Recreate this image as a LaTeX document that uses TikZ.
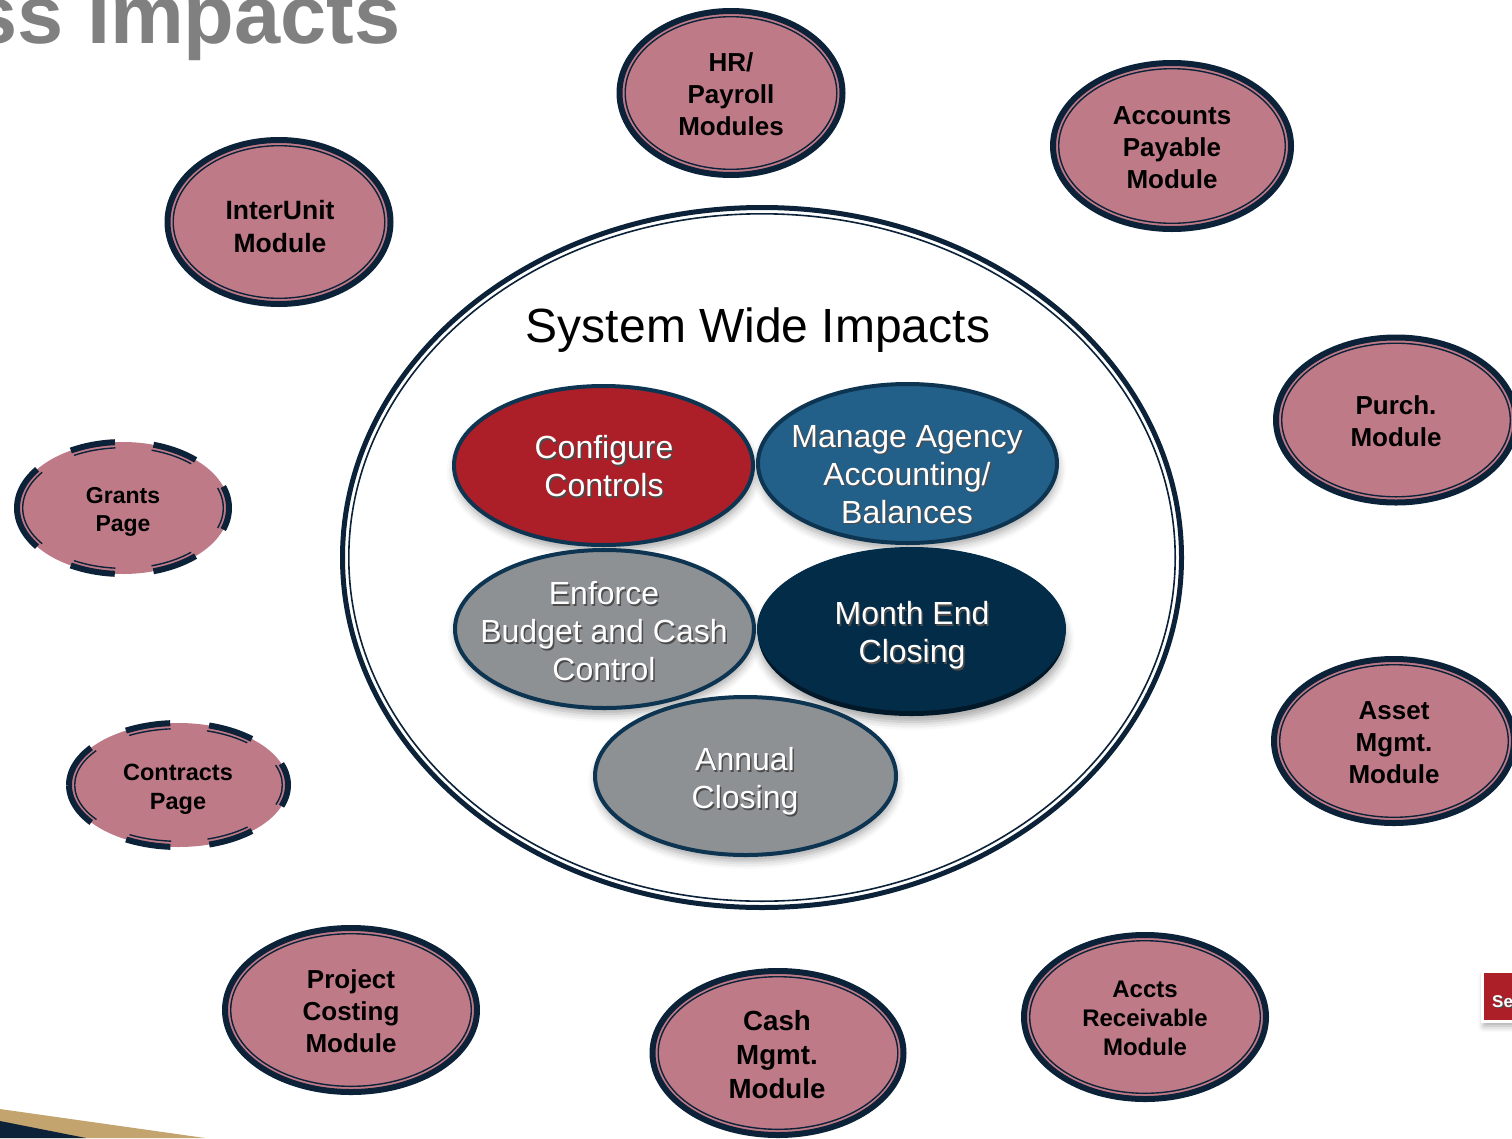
\documentclass[tikz,border=0pt]{standalone}
\usepackage{fontspec}
\setmainfont{Liberation Sans}
\usetikzlibrary{shadows.blur}
\definecolor{modpink}{RGB}{191,122,135}
\definecolor{modnavy}{RGB}{11,34,57}
\definecolor{innernavy}{RGB}{13,52,81}
\definecolor{cfgred}{RGB}{173,31,40}
\definecolor{agencyblue}{RGB}{35,96,137}
\definecolor{closegray}{RGB}{141,145,148}
\definecolor{monthnavy}{RGB}{3,44,72}
\definecolor{monthrim}{RGB}{1,24,40}
\definecolor{titlegray}{RGB}{128,128,128}
\definecolor{swooshtan}{RGB}{196,164,110}
\newcommand{\shtxt}[1]{\makebox[0pt][l]{\hspace{1.5pt}\raisebox{-1.5pt}{\textcolor{black!70}{#1}}}#1}
\tikzset{
  modfill/.style={fill=modpink},
  modline/.style={draw=modnavy, line width=6},
  modring/.style={draw=modnavy, line width=1.4},
  modtxt/.style={font=\fontsize{26}{32}\selectfont\bfseries, align=center, text=black, inner sep=0},
  innerell/.style={draw=innernavy, line width=4, blur shadow={shadow xshift=1pt, shadow yshift=-6pt, shadow blur radius=8pt, shadow opacity=35}},
  innertxt/.style={font=\fontsize{32}{38}\selectfont, align=center, text=white, inner sep=0},
}

\begin{document}
\begin{tikzpicture}[x=1pt,y=1pt,yscale=-1,xscale=1]
\clip (0,0) rectangle (1512,1138);

%Text Node: title
\node [font=\fontsize{83}{90}\selectfont\bfseries, text=titlegray, anchor=base east, inner sep=0] (title) at (401,43) {ss Impacts};

%Shape: swoosh
\fill [swooshtan] (0,1109) -- (205,1138) -- (0,1138) -- cycle;
\fill [modnavy] (0,1121) -- (86,1138) -- (0,1138) -- cycle;

%Shape: Ellipse, system wide
\draw [modnavy, line width=5] (762,557.5) ellipse [x radius=419.5, y radius=350];
\draw [modnavy, line width=1.6] (762,557.5) ellipse [x radius=413.2, y radius=343.7];
\node [font=\fontsize{48}{56}\selectfont, anchor=base, inner sep=0] (system) at (758,342) {System Wide Impacts};

%Shape: Ellipse, configure
\draw [innerell, fill=cfgred] (603.5,465.5) ellipse [x radius=149.5, y radius=79.5];
\node [innertxt] (configure) at (604,467) {\shtxt{Configure}\\\shtxt{Controls}};
%Shape: Ellipse, agency
\draw [innerell, fill=agencyblue] (907.5,463.5) ellipse [x radius=149.5, y radius=79.5];
\node [innertxt] (agency) at (907,475) {\shtxt{Manage Agency}\\\shtxt{Accounting/}\\\shtxt{Balances}};
%Shape: Ellipse, enforce
\draw [innerell, fill=closegray] (604.5,629) ellipse [x radius=149.5, y radius=79];
\node [innertxt] (enforce) at (604,632) {\shtxt{Enforce}\\\shtxt{Budget and Cash}\\\shtxt{Control}};
%Shape: Ellipse, month end
\fill [monthrim, blur shadow={shadow xshift=1pt, shadow yshift=-6pt, shadow blur radius=8pt, shadow opacity=35}] (911.5,634) ellipse [x radius=153.5, y radius=82];
\draw [monthnavy, fill=monthnavy, line width=1] (911.5,629) ellipse [x radius=154, y radius=81.5];
\node [innertxt] (monthend) at (912,636) {\shtxt{Month End}\\\shtxt{Closing}};
%Shape: Ellipse, annual
\draw [innerell, fill=closegray] (745.5,776) ellipse [x radius=150.5, y radius=79];
\node [innertxt] (annual) at (745,782) {\shtxt{Annual}\\\shtxt{Closing}};

%Shape: Ellipse, hr
\draw [modfill, modline] (731,93) ellipse [x radius=111.5, y radius=82];
\draw [modring] (731,93) ellipse [x radius=105.8, y radius=76.3];
\node [modtxt] (hr) at (731,94) {HR/\\Payroll\\Modules};
%Shape: Ellipse, interunit
\draw [modfill, modline] (279,222) ellipse [x radius=111.5, y radius=82];
\draw [modring] (279,222) ellipse [x radius=105.8, y radius=76.3];
\node [modtxt, font=\fontsize{26.5}{33}\selectfont\bfseries] (interunit) at (280,227) {InterUnit\\Module};
%Shape: Ellipse, payable
\draw [modfill, modline] (1172,146) ellipse [x radius=119, y radius=83];
\draw [modring] (1172,146) ellipse [x radius=113.3, y radius=77.3];
\node [modtxt] (payable) at (1172,148) {Accounts\\Payable\\Module};
%Shape: Ellipse, purch
\draw [modfill, modline] (1396,420) ellipse [x radius=120, y radius=82.5];
\draw [modring] (1396,420) ellipse [x radius=114.3, y radius=76.8];
\node [modtxt] (purch) at (1396,421) {Purch.\\Module};
%Shape: Ellipse, asset
\draw [modfill, modline] (1394,741) ellipse [x radius=120, y radius=82];
\draw [modring] (1394,741) ellipse [x radius=114.3, y radius=76.3];
\node [modtxt] (asset) at (1394,743) {Asset\\Mgmt.\\Module};
%Shape: Ellipse, receivable
\draw [modfill, modline] (1145,1017) ellipse [x radius=121, y radius=82];
\draw [modring] (1145,1017) ellipse [x radius=115.3, y radius=76.3];
\node [modtxt, font=\fontsize{24}{29}\selectfont\bfseries] (receivable) at (1145,1018) {Accts\\Receivable\\Module};
%Shape: Ellipse, cash
\draw [modfill, modline] (778,1053) ellipse [x radius=125.5, y radius=82];
\draw [modring] (778,1053) ellipse [x radius=119.8, y radius=76.3];
\node [modtxt, font=\fontsize{27.7}{34}\selectfont\bfseries] (cash) at (777,1055) {Cash\\Mgmt.\\Module};
%Shape: Ellipse, project
\draw [modfill, modline] (351,1010) ellipse [x radius=126, y radius=82];
\draw [modring] (351,1010) ellipse [x radius=120.3, y radius=76.3];
\node [modtxt] (project) at (351,1011) {Project\\Costing\\Module};

%Shape: Ellipse, grants (dashed)
\fill [modpink] (123,508) ellipse [x radius=106, y radius=66];
\draw [modline, dash pattern=on 45 off 38.8] (17,508) arc [start angle=180, end angle=540, x radius=106, y radius=66];
\draw [modring, dash pattern=on 42.1 off 36.3] (22.7,508) arc [start angle=180, end angle=540, x radius=100.3, y radius=60.3];
\node [modtxt, font=\fontsize{23}{28}\selectfont\bfseries] (grants) at (123,512) {Grants\\Page};
%Shape: Ellipse, contracts (dashed)
\fill [modpink] (178.5,785) ellipse [x radius=109.5, y radius=62];
\draw [modline, dash pattern=on 45 off 39] (69,785) arc [start angle=180, end angle=540, x radius=109.5, y radius=62];
\draw [modring, dash pattern=on 42.1 off 36.5] (74.7,785) arc [start angle=180, end angle=540, x radius=103.8, y radius=56.3];
\node [modtxt, font=\fontsize{23.5}{29}\selectfont\bfseries] (contracts) at (178,789) {Contracts\\Page};

%Shape: Rectangle, side tab
\filldraw [fill=cfgred, draw=white, line width=3, blur shadow={shadow xshift=2pt, shadow yshift=-5pt, shadow blur radius=6pt, shadow opacity=35}] (1482,971) rectangle (1540,1021);
\node [font=\fontsize{17}{20}\selectfont\bfseries, text=white, anchor=base west, inner sep=0] (seetab) at (1492,1007) {\shtxt{Se}};

\end{tikzpicture}
\end{document}
